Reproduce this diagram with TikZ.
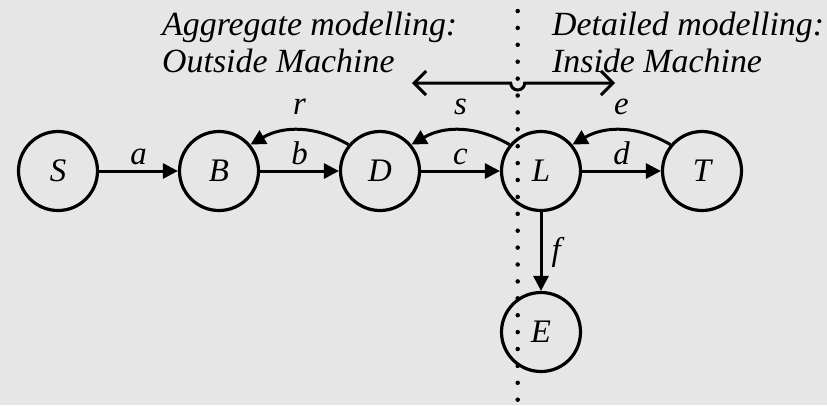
\documentclass[tikz,border=0pt]{standalone}
\usepackage{fontspec}
\setmainfont{Liberation Serif}
\usetikzlibrary{arrows.meta}
\definecolor{bg}{RGB}{230,230,230}
\begin{document}
\begin{tikzpicture}[x=1bp,y=-1bp,
  state/.style={circle,draw,line width=3.2bp,minimum size=79bp,inner sep=0pt,
    font=\fontsize{33}{35}\selectfont\itshape},
  flow/.style={line width=3bp,-{Triangle[length=15bp,width=15bp]}},
  lbl/.style={font=\fontsize{33}{35}\selectfont\itshape,inner sep=0pt},
  head/.style={font=\fontsize{34}{37}\selectfont\itshape,inner sep=0pt,anchor=base west},
  dotline/.style={line width=4.5bp,line cap=round,dash pattern=on 0pt off 16.9bp},
  span/.style={line width=3bp,{Straight Barb[length=12bp,width=24bp]}-{Straight Barb[length=12bp,width=24bp]}}]

% canvas
\fill[bg] (0,0) rectangle (827,405);
\useasboundingbox (0,0) rectangle (827,405);

% headings on each side of the boundary
\node[head] (h1) at (162,35) {Aggregate modelling:};
\node[head] (h2) at (162,72) {Outside Machine};
\node[head] (h3) at (552,35) {Detailed modelling:};
\node[head] (h4) at (552,72) {Inside Machine};

% machine boundary
\coordinate (btop) at (517.7,11);
\coordinate (bbot) at (517.7,405);
\draw[dotline] (btop) -- (bbot);

% states
\node[state] (S) at (58,171) {S};
\node[state] (B) at (219,171) {B};
\node[state] (D) at (380,171) {D};
\node[state] (L) at (541,171) {L};
\node[state] (T) at (702,171) {T};
\node[state] (E) at (541,332) {E};

% forward flows
\draw[flow] (S) -- node[lbl,midway,anchor=base,yshift=7bp] {a} (B);
\draw[flow] (B) -- node[lbl,midway,anchor=base,yshift=7bp] {b} (D);
\draw[flow] (D) -- node[lbl,midway,anchor=base,yshift=7bp] {c} (L);
\draw[flow] (L) -- node[lbl,midway,anchor=base,yshift=7bp] {d} (T);
\draw[flow] (L) -- node[lbl,midway,anchor=base west,xshift=9bp,yshift=-9bp] {f} (E);

% return flows
\draw[flow] (D.140) to[bend right=30] node[lbl,midway,anchor=base,yshift=16bp] {r} (B.40);
\draw[flow] (L.140) to[bend right=30] node[lbl,midway,anchor=base,yshift=16bp] {s} (D.40);
\draw[flow] (T.140) to[bend right=30] node[lbl,midway,anchor=base,yshift=16bp] {e} (L.40);

% two-way span hopping over the boundary
\coordinate (sl) at (412,83);
\coordinate (sr) at (615,83);
\fill[bg] (510.7,83) arc (180:0:7) -- cycle;
\draw[span] (sl) -- (510.7,83) arc (180:0:7) -- (sr);
\end{tikzpicture}
\end{document}
